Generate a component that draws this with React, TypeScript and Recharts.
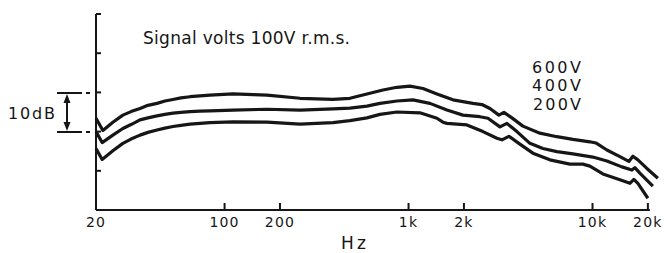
import { LineChart, Line, XAxis, YAxis, ReferenceLine } from "recharts";

// frequency ticks (Hz) and level ticks (dB)
const FREQ_TICKS = [20, 100, 200, 1000, 2000, 10000, 20000];
const DB_TICKS = [0, 10, 20, 30, 40, 50];

// 600V curve (top)
const freq600 = [20, 21.8, 24.7, 28, 31, 34.7, 38.3, 42.9, 47.4, 52.4, 57.9, 64.9, 73.5, 83.3, 111, 170, 257, 388, 480, 594, 726, 865, 1017, 1198, 1427, 1743, 2238, 2506, 2770, 3099, 3300, 3647, 4184, 5176, 6404, 7824, 9678, 10432, 11974, 14090, 15766, 16576, 17646, 19752, 22668];
const db600 = [23.4, 20.3, 22.4, 24.2, 25.1, 25.9, 26.7, 27.2, 27.8, 28.2, 28.6, 28.9, 29.1, 29.3, 29.6, 29.3, 28.5, 28.2, 28.5, 29.6, 30.6, 31.3, 31.6, 31.0, 29.6, 28.1, 27.2, 26.9, 25.9, 24.2, 24.9, 23.5, 21.4, 19.6, 18.7, 18.0, 17.4, 17.1, 15.3, 13.6, 12.4, 13.7, 12.8, 10.6, 8.1];

// 400V curve (middle)
const freq400 = [20, 21.6, 24.7, 28, 31, 34.7, 38.3, 42.9, 47.4, 52.4, 57.9, 64.9, 73.5, 83.3, 111, 170, 257, 388, 480, 594, 699, 865, 1056, 1307, 1617, 1975, 2443, 2702, 3138, 3426, 3882, 4568, 5374, 6404, 7824, 10048, 11974, 14446, 16370, 16994, 18092, 21292];
const db400 = [20.0, 17.2, 19.1, 20.8, 21.8, 23.0, 23.5, 24.0, 24.4, 24.7, 24.9, 25.1, 25.2, 25.3, 25.5, 25.7, 25.5, 25.8, 26.0, 26.5, 27.2, 27.8, 28.1, 27.2, 25.5, 24.2, 23.8, 23.4, 21.2, 22.1, 20.0, 17.0, 15.7, 14.9, 14.3, 13.5, 12.5, 11.0, 10.2, 10.8, 9.4, 6.1];

// 200V curve (bottom)
const freq200 = [20, 21.6, 24.7, 28, 31, 34.7, 38.3, 42.9, 47.4, 52.4, 57.9, 64.9, 73.5, 83.3, 111, 170, 257, 388, 480, 594, 699, 865, 1153, 1427, 1538, 1617, 2076, 2538, 3023, 3218, 3512, 4030, 4742, 5868, 7536, 8868, 9678, 11388, 14090, 15966, 16784, 17646, 20000];
const db200 = [15.7, 12.9, 15.1, 17.0, 18.1, 19.1, 19.8, 20.4, 20.9, 21.3, 21.6, 21.9, 22.1, 22.3, 22.5, 22.4, 21.9, 22.3, 22.8, 23.5, 24.4, 25.0, 24.8, 23.4, 22.4, 22.1, 21.7, 20.0, 18.3, 17.9, 18.8, 16.8, 14.5, 12.8, 11.7, 11.7, 11.2, 9.2, 7.7, 6.8, 7.8, 6.8, 3.0];

const toPoints = (freqs: number[], dbs: number[]) =>
    freqs.map((hz, i) => ({ hz, db: dbs[i] }));

const INK = "#161616";
const FONT = "'DejaVu Sans', sans-serif";

const fmtFreq = (v: number) => (v >= 1000 ? `${v / 1000}k` : `${v}`);

// tick marks point into the plot, labels sit below the axis
const FreqTick = ({ x, y, payload }: any) => (
    <g>
        <line x1={x} y1={y - 7} x2={x} y2={y} stroke={INK} strokeWidth={2} />
        <text
            x={x}
            y={y + 17}
            textAnchor="middle"
            fontSize={14}
            fontFamily={FONT}
            letterSpacing={1.2}
            fill={INK}
        >
            {fmtFreq(payload.value)}
        </text>
    </g>
);

const LevelTick = ({ x, y }: any) => (
    <line x1={x} y1={y} x2={x + 5} y2={y} stroke={INK} strokeWidth={2} />
);

const Annotations = () => (
    <svg
        width={671}
        height={253}
        style={{ position: "absolute", left: 0, top: 0, pointerEvents: "none" }}
        fontFamily={FONT}
        fill={INK}
    >
        <text x={143} y={44} fontSize={17} textLength={207} lengthAdjust="spacing">
            Signal volts 100V r.m.s.
        </text>
        <text x={532} y={73} fontSize={16} textLength={49} lengthAdjust="spacing">600V</text>
        <text x={532} y={91} fontSize={16} textLength={49} lengthAdjust="spacing">400V</text>
        <text x={533} y={109.5} fontSize={16} textLength={48} lengthAdjust="spacing">200V</text>
        <text x={8} y={119} fontSize={16} textLength={47} lengthAdjust="spacing">10dB</text>
        <text x={341} y={249} fontSize={17} textLength={25} lengthAdjust="spacing">Hz</text>

        {/* 10 dB bracket */}
        <g stroke={INK} strokeWidth={2}>
            <line x1={57} y1={93} x2={82} y2={93} />
            <line x1={86} y1={93} x2={90} y2={93} />
            <line x1={57} y1={132} x2={82} y2={132} />
            <line x1={86} y1={132} x2={90} y2={132} />
            <line x1={67} y1={100} x2={67} y2={125} />
        </g>
        <polygon points="67,94 63.5,103 70.5,103" />
        <polygon points="67,131 63.5,122 70.5,122" />
    </svg>
);

export default function App() {
    return (
        <div
            style={{
                position: "fixed",
                left: 0,
                top: 0,
                width: 671,
                height: 253,
                background: "#fff",
            }}
        >
            <LineChart
                width={671}
                height={253}
                margin={{ top: 14, right: 13, bottom: 0, left: 95 }}
            >
                <XAxis
                    dataKey="hz"
                    type="number"
                    scale="log"
                    domain={[20, 22700]}
                    ticks={FREQ_TICKS}
                    axisLine={false}
                    height={43}
                    tickSize={0}
                    tickMargin={0}
                    tickLine={false}
                    tick={<FreqTick />}
                    interval={0}
                />
                <YAxis
                    type="number"
                    domain={[0, 50]}
                    ticks={DB_TICKS}
                    width={1}
                    tickSize={0}
                    tickMargin={0}
                    tickLine={false}
                    tick={<LevelTick />}
                    axisLine={{ stroke: INK, strokeWidth: 2 }}
                    interval={0}
                />
                <ReferenceLine
                    segment={[
                        { x: 20, y: 0 },
                        { x: 20500, y: 0 },
                    ]}
                    stroke={INK}
                    strokeWidth={2}
                />
                <Line
                    data={toPoints(freq600, db600)}
                    dataKey="db"
                    name="600V"
                    type="linear"
                    stroke={INK}
                    strokeWidth={3.2}
                    strokeLinejoin="round"
                    dot={false}
                    activeDot={false}
                    isAnimationActive={false}
                />
                <Line
                    data={toPoints(freq400, db400)}
                    dataKey="db"
                    name="400V"
                    type="linear"
                    stroke={INK}
                    strokeWidth={3.2}
                    strokeLinejoin="round"
                    dot={false}
                    activeDot={false}
                    isAnimationActive={false}
                />
                <Line
                    data={toPoints(freq200, db200)}
                    dataKey="db"
                    name="200V"
                    type="linear"
                    stroke={INK}
                    strokeWidth={3.2}
                    strokeLinejoin="round"
                    dot={false}
                    activeDot={false}
                    isAnimationActive={false}
                />
            </LineChart>
            <Annotations />
        </div>
    );
}
